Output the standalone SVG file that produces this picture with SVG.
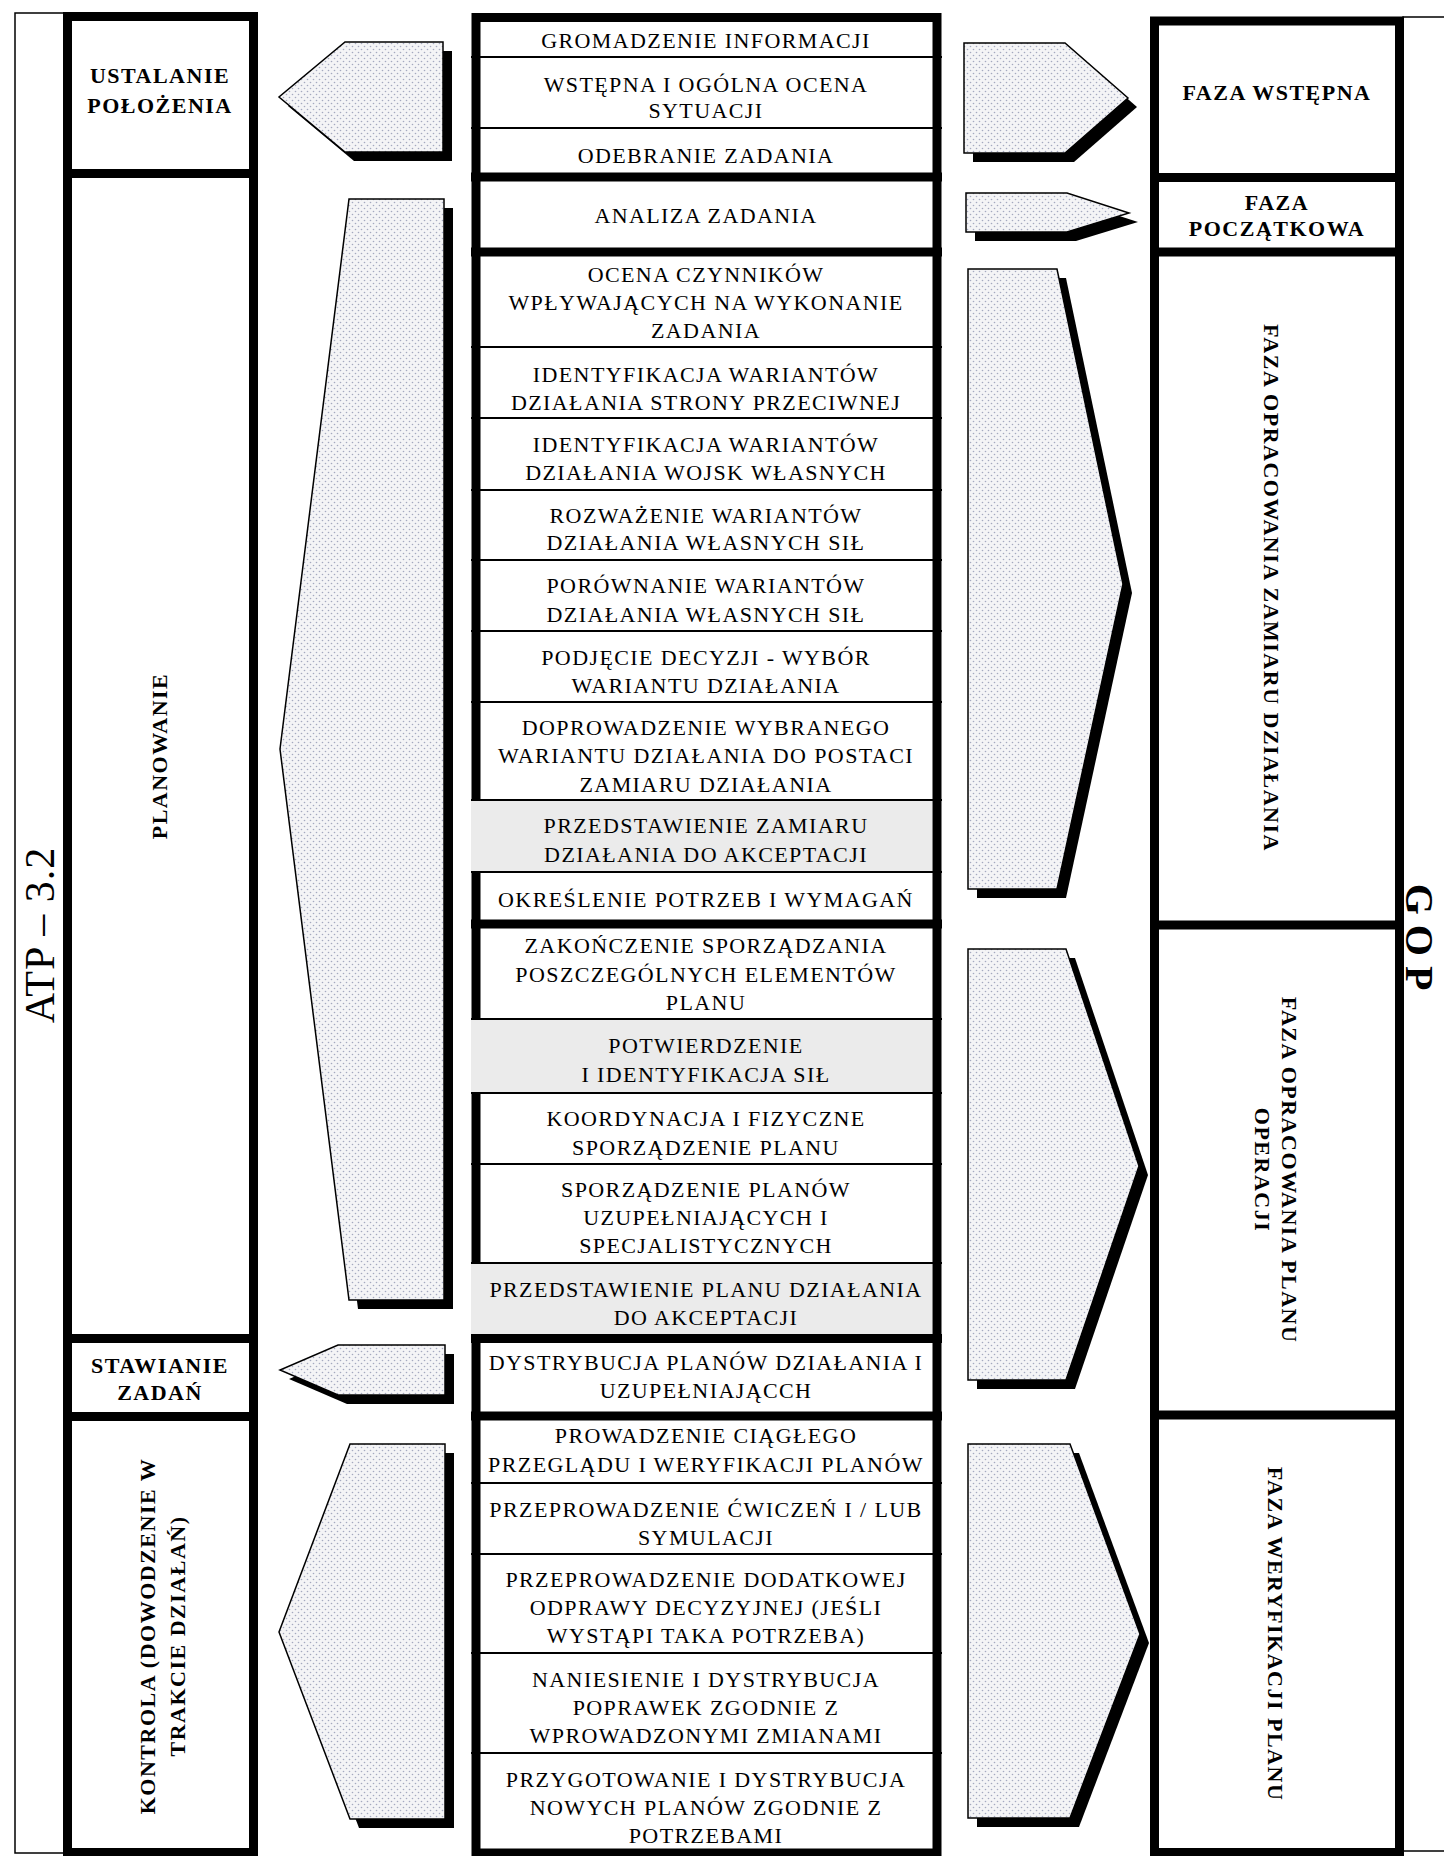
<svg xmlns="http://www.w3.org/2000/svg" width="1444" height="1856" viewBox="0 0 1444 1856">
<defs>
<pattern id="dots" width="6" height="6" patternUnits="userSpaceOnUse">
<rect width="6" height="6" fill="#f4f4f6"/>
<circle cx="1.5" cy="1.5" r="0.8" fill="#a4a9bf"/>
<circle cx="4.5" cy="4.5" r="0.8" fill="#a4a9bf"/>
</pattern>
</defs>
<style>
.frame{fill:none;stroke:#000;stroke-width:9}
.thin{fill:none;stroke:#000;stroke-width:1.5}
.sep{stroke:#000;stroke-width:9}
.sepT{stroke:#000;stroke-width:2}
.gray{fill:#ebebeb}
.arrow{fill:url(#dots);stroke:#000;stroke-width:1.5;stroke-linejoin:miter}
.shadow{fill:#000}
.c{font-family:"Liberation Serif","Times New Roman",serif;font-size:22px;letter-spacing:1.4px;text-anchor:middle;fill:#000}
.b{font-family:"Liberation Serif","Times New Roman",serif;font-weight:bold;font-size:22px;letter-spacing:1.5px;text-anchor:middle;fill:#000}
.big{font-family:"Liberation Serif","Times New Roman",serif;font-size:42px;letter-spacing:1px;text-anchor:middle;fill:#000}
.gop{font-family:"Liberation Serif","Times New Roman",serif;font-weight:bold;font-size:40px;text-anchor:middle;fill:#000}
</style>
<rect width="1444" height="1856" fill="#fff"/>

<!-- left outer frame ATP -->
<g id="atp">
<rect class="thin" x="15" y="13" width="50" height="1840"/>
<text class="big" transform="translate(54 935) rotate(-90)">ATP – 3.2</text>
</g>

<!-- right outer frame GOP -->
<g id="gop">
<rect class="thin" x="1403" y="17" width="60" height="1834"/>
<text class="gop" transform="translate(1406 937) rotate(90)">G O P</text>
</g>

<!-- left column -->
<g id="left-column">
<rect class="frame" x="67.5" y="16.5" width="186" height="1836"/>
<line class="sep" x1="63" y1="173.5" x2="258" y2="173.5"/>
<line class="sep" x1="63" y1="1338.5" x2="258" y2="1338.5"/>
<line class="sep" x1="63" y1="1416.5" x2="258" y2="1416.5"/>
</g>
<g id="ustalanie"><text class="b" x="160" y="83">USTALANIE</text><text class="b" x="160" y="113">POŁOŻENIA</text></g>
<g id="planowanie"><text class="b" transform="translate(167 756) rotate(-90)">PLANOWANIE</text></g>
<g id="stawianie"><text class="b" x="160" y="1373">STAWIANIE</text><text class="b" x="160" y="1400">ZADAŃ</text></g>
<g id="kontrola"><text class="b" transform="translate(155 1636) rotate(-90)"><tspan x="0" y="0">KONTROLA (DOWODZENIE W</tspan><tspan x="0" y="30">TRAKCIE DZIAŁAŃ)</tspan></text></g>

<!-- right column -->
<g id="right-column">
<rect class="frame" x="1154.5" y="21" width="245" height="1831.5"/>
<line class="sep" x1="1150" y1="177.5" x2="1404" y2="177.5"/>
<line class="sep" x1="1150" y1="252" x2="1404" y2="252"/>
<line class="sep" x1="1150" y1="925" x2="1404" y2="925"/>
<line class="sep" x1="1150" y1="1415" x2="1404" y2="1415"/>
</g>
<g id="faza-wstepna"><text class="b" x="1277" y="100">FAZA WSTĘPNA</text></g>
<g id="faza-poczatkowa"><text class="b" x="1277" y="210">FAZA</text><text class="b" x="1277" y="236">POCZĄTKOWA</text></g>
<g id="faza-zamiaru"><text class="b" transform="translate(1264 588) rotate(90)">FAZA OPRACOWANIA ZAMIARU DZIAŁANIA</text></g>
<g id="faza-planu"><text class="b" transform="translate(1282 1170) rotate(90)"><tspan x="0" y="0">FAZA OPRACOWANIA PLANU</tspan><tspan x="0" y="27">OPERACJI</tspan></text></g>
<g id="faza-weryfikacji"><text class="b" transform="translate(1268 1634) rotate(90)">FAZA WERYFIKACJI PLANU</text></g>

<!-- center column -->
<g id="center-column">
<rect class="frame" x="476" y="17.5" width="461" height="1835.5"/>
<rect class="gray" x="471" y="800" width="461" height="72"/>
<rect class="gray" x="471" y="1019" width="461" height="74"/>
<rect class="gray" x="471" y="1263" width="461" height="71"/>
<line class="sep" x1="471" y1="177" x2="942" y2="177"/>
<line class="sep" x1="471" y1="252" x2="942" y2="252"/>
<line class="sep" x1="471" y1="924" x2="942" y2="924"/>
<line class="sep" x1="471" y1="1338.5" x2="942" y2="1338.5"/>
<line class="sep" x1="471" y1="1416" x2="942" y2="1416"/>
<g class="sepT">
<line x1="471" y1="57" x2="942" y2="57"/>
<line x1="471" y1="128" x2="942" y2="128"/>
<line x1="471" y1="347" x2="942" y2="347"/>
<line x1="471" y1="418" x2="942" y2="418"/>
<line x1="471" y1="490" x2="942" y2="490"/>
<line x1="471" y1="560" x2="942" y2="560"/>
<line x1="471" y1="631" x2="942" y2="631"/>
<line x1="471" y1="702" x2="942" y2="702"/>
<line x1="471" y1="800" x2="942" y2="800"/>
<line x1="471" y1="872" x2="942" y2="872"/>
<line x1="471" y1="1019" x2="942" y2="1019"/>
<line x1="471" y1="1093" x2="942" y2="1093"/>
<line x1="471" y1="1164" x2="942" y2="1164"/>
<line x1="471" y1="1263" x2="942" y2="1263"/>
<line x1="471" y1="1483" x2="942" y2="1483"/>
<line x1="471" y1="1554" x2="942" y2="1554"/>
<line x1="471" y1="1653" x2="942" y2="1653"/>
<line x1="471" y1="1753" x2="942" y2="1753"/>
</g>
</g>

<g id="step-01"><text class="c" x="706" y="48">GROMADZENIE INFORMACJI</text></g>
<g id="step-02"><text class="c" x="706" y="92">WSTĘPNA I OGÓLNA OCENA</text><text class="c" x="706" y="118">SYTUACJI</text></g>
<g id="step-03"><text class="c" x="706" y="163">ODEBRANIE ZADANIA</text></g>
<g id="step-04"><text class="c" x="706" y="223">ANALIZA ZADANIA</text></g>
<g id="step-05"><text class="c" x="706" y="282">OCENA CZYNNIKÓW</text><text class="c" x="706" y="310">WPŁYWAJĄCYCH NA WYKONANIE</text><text class="c" x="706" y="338">ZADANIA</text></g>
<g id="step-06"><text class="c" x="706" y="382">IDENTYFIKACJA WARIANTÓW</text><text class="c" x="706" y="410">DZIAŁANIA STRONY PRZECIWNEJ</text></g>
<g id="step-07"><text class="c" x="706" y="452">IDENTYFIKACJA WARIANTÓW</text><text class="c" x="706" y="480">DZIAŁANIA WOJSK WŁASNYCH</text></g>
<g id="step-08"><text class="c" x="706" y="523">ROZWAŻENIE WARIANTÓW</text><text class="c" x="706" y="550">DZIAŁANIA WŁASNYCH SIŁ</text></g>
<g id="step-09"><text class="c" x="706" y="593">PORÓWNANIE WARIANTÓW</text><text class="c" x="706" y="622">DZIAŁANIA WŁASNYCH SIŁ</text></g>
<g id="step-10"><text class="c" x="706" y="665">PODJĘCIE DECYZJI - WYBÓR</text><text class="c" x="706" y="693">WARIANTU DZIAŁANIA</text></g>
<g id="step-11"><text class="c" x="706" y="735">DOPROWADZENIE WYBRANEGO</text><text class="c" x="706" y="763">WARIANTU DZIAŁANIA DO POSTACI</text><text class="c" x="706" y="792">ZAMIARU DZIAŁANIA</text></g>
<g id="step-12"><text class="c" x="706" y="833">PRZEDSTAWIENIE ZAMIARU</text><text class="c" x="706" y="862">DZIAŁANIA DO AKCEPTACJI</text></g>
<g id="step-13"><text class="c" x="706" y="907">OKREŚLENIE POTRZEB I WYMAGAŃ</text></g>
<g id="step-14"><text class="c" x="706" y="953">ZAKOŃCZENIE SPORZĄDZANIA</text><text class="c" x="706" y="982">POSZCZEGÓLNYCH ELEMENTÓW</text><text class="c" x="706" y="1010">PLANU</text></g>
<g id="step-15"><text class="c" x="706" y="1053">POTWIERDZENIE</text><text class="c" x="706" y="1082">I IDENTYFIKACJA SIŁ</text></g>
<g id="step-16"><text class="c" x="706" y="1126">KOORDYNACJA I FIZYCZNE</text><text class="c" x="706" y="1155">SPORZĄDZENIE PLANU</text></g>
<g id="step-17"><text class="c" x="706" y="1197">SPORZĄDZENIE PLANÓW</text><text class="c" x="706" y="1225">UZUPEŁNIAJĄCYCH I</text><text class="c" x="706" y="1253">SPECJALISTYCZNYCH</text></g>
<g id="step-18"><text class="c" x="706" y="1297">PRZEDSTAWIENIE PLANU DZIAŁANIA</text><text class="c" x="706" y="1325">DO AKCEPTACJI</text></g>
<g id="step-19"><text class="c" x="706" y="1370">DYSTRYBUCJA PLANÓW DZIAŁANIA I</text><text class="c" x="706" y="1398">UZUPEŁNIAJĄCCH</text></g>
<g id="step-20"><text class="c" x="706" y="1443">PROWADZENIE CIĄGŁEGO</text><text class="c" x="706" y="1472">PRZEGLĄDU I WERYFIKACJI PLANÓW</text></g>
<g id="step-21"><text class="c" x="706" y="1517">PRZEPROWADZENIE ĆWICZEŃ I / LUB</text><text class="c" x="706" y="1545">SYMULACJI</text></g>
<g id="step-22"><text class="c" x="706" y="1587">PRZEPROWADZENIE DODATKOWEJ</text><text class="c" x="706" y="1615">ODPRAWY DECYZYJNEJ (JEŚLI</text><text class="c" x="706" y="1643">WYSTĄPI TAKA POTRZEBA)</text></g>
<g id="step-23"><text class="c" x="706" y="1687">NANIESIENIE I DYSTRYBUCJA</text><text class="c" x="706" y="1715">POPRAWEK ZGODNIE Z</text><text class="c" x="706" y="1743">WPROWADZONYMI ZMIANAMI</text></g>
<g id="step-24"><text class="c" x="706" y="1787">PRZYGOTOWANIE I DYSTRYBUCJA</text><text class="c" x="706" y="1815">NOWYCH PLANÓW ZGODNIE Z</text><text class="c" x="706" y="1843">POTRZEBAMI</text></g>

<!-- connectors: chevron arrows -->
<g id="connectors">
<g id="arrow-l1"><polygon class="shadow" transform="translate(9 9)" points="345,42 443,42 443,152 345,152 279,97"/><polygon class="arrow" points="345,42 443,42 443,152 345,152 279,97"/></g>
<g id="arrow-l2"><polygon class="shadow" transform="translate(9 9)" points="349,199 444,199 444,1300 349,1300 280,749"/><polygon class="arrow" points="349,199 444,199 444,1300 349,1300 280,749"/></g>
<g id="arrow-l3"><polygon class="shadow" transform="translate(9 9)" points="338,1345 445,1345 445,1395 338,1395 280,1370"/><polygon class="arrow" points="338,1345 445,1345 445,1395 338,1395 280,1370"/></g>
<g id="arrow-l4"><polygon class="shadow" transform="translate(9 9)" points="350,1444 445,1444 445,1819 350,1819 279,1632"/><polygon class="arrow" points="350,1444 445,1444 445,1819 350,1819 279,1632"/></g>
<g id="arrow-r1"><polygon class="shadow" transform="translate(9 9)" points="964,43 1065,43 1128,98 1065,153 964,153"/><polygon class="arrow" points="964,43 1065,43 1128,98 1065,153 964,153"/></g>
<g id="arrow-r2"><polygon class="shadow" transform="translate(9 9)" points="966,193 1067,193 1129,213 1067,232 966,232"/><polygon class="arrow" points="966,193 1067,193 1129,213 1067,232 966,232"/></g>
<g id="arrow-r3"><polygon class="shadow" transform="translate(9 9)" points="968,269 1057,269 1123,584 1057,889 968,889"/><polygon class="arrow" points="968,269 1057,269 1123,584 1057,889 968,889"/></g>
<g id="arrow-r4"><polygon class="shadow" transform="translate(9 9)" points="968,949 1066,949 1139,1166 1066,1380 968,1380"/><polygon class="arrow" points="968,949 1066,949 1139,1166 1066,1380 968,1380"/></g>
<g id="arrow-r5"><polygon class="shadow" transform="translate(9 9)" points="968,1444 1070,1444 1140,1634 1070,1818 968,1818"/><polygon class="arrow" points="968,1444 1070,1444 1140,1634 1070,1818 968,1818"/></g>
</g>
</svg>
